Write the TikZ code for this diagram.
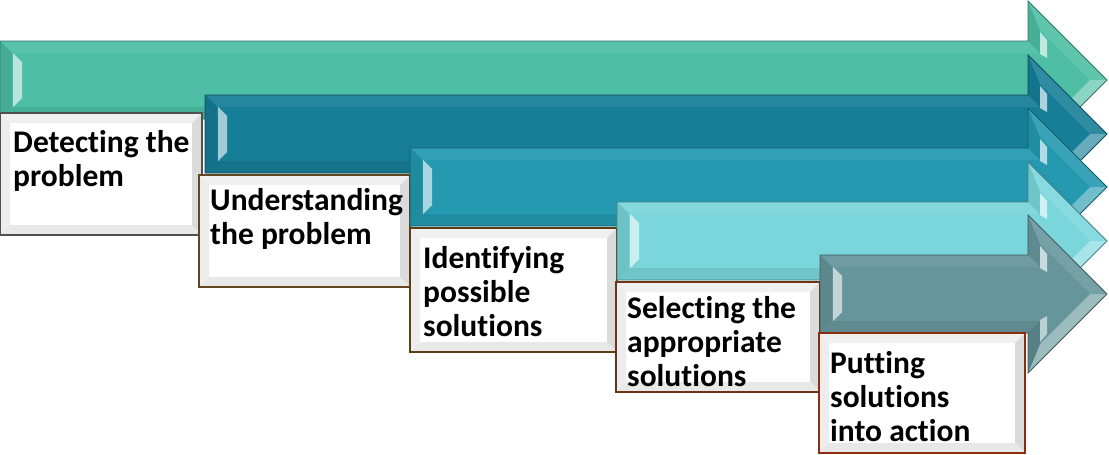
\documentclass[tikz,border=0pt]{standalone}
\usepackage{fontspec}
\setmainfont{Carlito}[Ligatures=NoCommon]
\definecolor{cA}{HTML}{4EBEA4}
\definecolor{cB}{HTML}{177E98}
\definecolor{cC}{HTML}{2499B0}
\definecolor{cD}{HTML}{7AD6DB}
\definecolor{cE}{HTML}{66969C}
\definecolor{bA}{HTML}{505050}
\definecolor{bB}{HTML}{64461E}
\definecolor{bC}{HTML}{5E3E16}
\definecolor{bD}{HTML}{6E3214}
\definecolor{bE}{HTML}{8C2D0F}
\tikzset{
  txt/.style={font=\fontsize{31.5}{34}\selectfont\bfseries, align=left, inner sep=0pt, anchor=base west, text=black},
}
% #1 left x, #2 top y, #3 colour
\newcommand{\bevarrow}[3]{%
  \pgfmathsetmacro{\arX}{#1}
  \pgfmathsetmacro{\arT}{#2}
  \pgfmathsetmacro{\arB}{#2+78}
  \pgfmathsetmacro{\arC}{#2+39}
  \fill[#3] (\arX,\arT) -- (1028,\arT) -- (1028,\arC-79) -- (1107,\arC) -- (1028,\arC+79) -- (1028,\arB) -- (\arX,\arB) -- cycle;
  % faces
  \fill[#3!94!white] (\arX,\arT) -- (1028,\arT) -- (1040,\arT+12) -- (\arX+12,\arT+12) -- cycle;
  \fill[#3!92!black] (\arX,\arB) -- (1028,\arB) -- (1040,\arB-12) -- (\arX+12,\arB-12) -- cycle;
  \fill[#3!90!black] (\arX,\arT) -- (\arX+12,\arT+12) -- (\arX+12,\arB-12) -- (\arX,\arB) -- cycle;
  \fill[#3!40!white] (\arX+13,\arT+12) -- (\arX+22,\arT+21) -- (\arX+22,\arB-21) -- (\arX+13,\arB-12) -- cycle;
  \fill[#3!92!black] (1028,\arC-79) -- (1040,\arC-50) -- (1040,\arT+12) -- (1028,\arT) -- cycle;
  \fill[#3!90!white] (1028,\arC-79) -- (1107,\arC) -- (1090,\arC) -- (1040,\arC-50) -- cycle;
  \fill[#3!65!white] (1107,\arC) -- (1028,\arC+79) -- (1040,\arC+50) -- (1090,\arC) -- cycle;
  \fill[#3!85!black] (1028,\arC+79) -- (1040,\arC+50) -- (1040,\arB-12) -- (1028,\arB) -- cycle;
  \fill[#3!35!white] (1040,\arC-48) -- (1047,\arC-40) -- (1047,\arC-22) -- (1040,\arC-26) -- cycle;
  \fill[#3!45!white] (1040,\arC+48) -- (1047,\arC+40) -- (1047,\arC+22) -- (1040,\arC+26) -- cycle;
  \draw[#3!60!black, line width=0.8pt, line join=miter] (\arX,\arT) -- (1028,\arT) -- (1028,\arC-79) -- (1107,\arC) -- (1028,\arC+79) -- (1028,\arB) -- (\arX,\arB) -- cycle;
}
% #1 x0, #2 y0, #3 x1, #4 y1, #5 border colour
\newcommand{\bevbox}[5]{%
  \fill[white] (#1,#2) rectangle (#3,#4);
  \fill[gray!12] (#1,#2) -- (#3,#2) -- (#3-10,#2+10) -- (#1+10,#2+10) -- cycle;
  \fill[gray!14] (#1,#2) -- (#1+10,#2+10) -- (#1+10,#4-10) -- (#1,#4) -- cycle;
  \fill[gray!28] (#3,#2) -- (#3,#4) -- (#3-10,#4-10) -- (#3-10,#2+10) -- cycle;
  \fill[gray!18] (#1,#4) -- (#3,#4) -- (#3-10,#4-10) -- (#1+10,#4-10) -- cycle;
  \draw[#5, line width=1.8pt] (#1,#2) rectangle (#3,#4);
}
\begin{document}
\begin{tikzpicture}[x=1pt, y=-1pt]
\useasboundingbox (0,0) rectangle (1109,455);
\bevarrow{0}{41}{cA}
\bevbox{0}{113}{202}{235}{bA}
\node[txt] (t1) at (13,186) {Detecting the\\problem};
\bevarrow{205}{95}{cB}
\bevbox{199}{175}{410}{287}{bB}
\node[txt] (t2) at (210,244) {Understanding\\the problem};
\bevarrow{410}{148}{cC}
\bevbox{410}{228}{617}{352}{bC}
\node[txt] (t3) at (423,336) {Identifying\\possible\\solutions};
\bevarrow{617}{202}{cD}
\bevbox{616}{282}{820}{392}{bD}
\node[txt] (t4) at (627,386) {Selecting the\\appropriate\\solutions};
\bevarrow{820}{255}{cE}
\bevbox{819}{333}{1025}{453}{bE}
\node[txt] (t5) at (830,441) {Putting\\solutions\\into action};
\end{tikzpicture}
\end{document}
